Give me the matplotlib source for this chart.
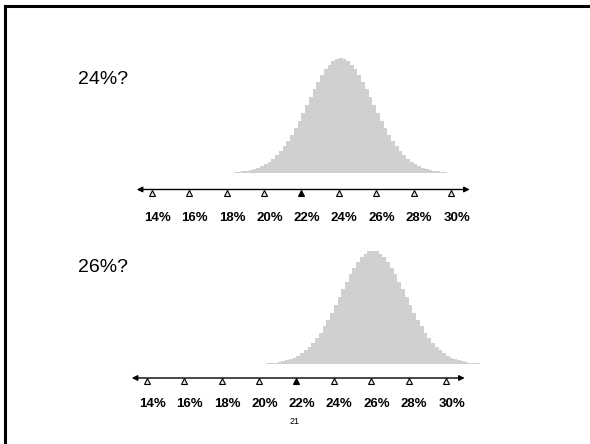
import matplotlib
matplotlib.use("Agg")
import matplotlib.pyplot as plt
import numpy as np

plt.rcParams['font.family'] = ['Liberation Sans', 'DejaVu Sans']

# tick values on the number line (percent)
ticks = [14, 16, 18, 20, 22, 24, 26, 28, 30]
tick_labels = ["14%", "16%", "18%", "20%", "22%", "24%", "26%", "28%", "30%"]
marked_tick = 22

# histogram bar heights (peak = 100), bins 0.2% wide
bin_width = 0.2
heights = [0.6, 0.9, 1.2, 1.7, 2.3, 3.2, 4.2, 5.6, 7.3,
           9.5, 12.1, 15.2, 18.8, 23.0, 27.8, 33.2, 39.1, 45.4, 52.1,
           58.9, 65.8, 72.6, 79.1, 84.9, 90.1, 94.3, 97.4, 99.4, 100.0,
           99.4, 97.4, 94.3, 90.1, 84.9, 79.1, 72.6, 65.8, 58.9, 52.1,
           45.4, 39.1, 33.2, 27.8, 23.0, 18.8, 15.2, 12.1, 9.5, 7.3,
           5.6, 4.2, 3.2, 2.3, 1.7, 1.2, 0.9, 0.6]

# the two guesses shown on the slide
guesses = ["24%?", "26%?"]
centers = [24, 26]

W, H = 590, 444
fig = plt.figure(figsize=(W / 100, H / 100), dpi=100)

# slide border (top and left edges only visible)
fig.add_artist(plt.Line2D([5 / W, 1], [1 - 6 / H, 1 - 6 / H], color="black", lw=2.2))
fig.add_artist(plt.Line2D([5 / W, 5 / W], [0, 1 - 6 / H], color="black", lw=2.2))


def px_axes(x0, x1, y0, y1):
    # axes placed by pixel box (y measured from top)
    return fig.add_axes([x0 / W, 1 - y1 / H, (x1 - x0) / W, (y1 - y0) / H])


panels = [
    dict(x12=114.3, x32=488.4, top=40, bot=235, base=172.7, scale=1.147,
         line=189.5, tri=193.0, lab=218, gy=79),
    dict(x12=109.3, x32=483.4, top=225, bot=420, base=364, scale=1.133,
         line=378, tri=381.0, lab=404, gy=267),
]

for p, guess, c in zip(panels, guesses, centers):
    ax = px_axes(p["x12"], p["x32"], p["top"], p["bot"])
    ax.set_xlim(12, 32)
    ax.set_ylim((p["base"] - p["bot"]) / p["scale"], (p["base"] - p["top"]) / p["scale"])
    ax.axis("off")

    n = len(heights)
    lefts = c + 0.1 - (n / 2) * bin_width + np.arange(n) * bin_width
    ax.bar(lefts, heights, width=bin_width, align="edge", color="#d0d0d0",
           edgecolor="none", linewidth=0)

    def uy(px):
        return (p["base"] - px) / p["scale"]

    ax.annotate("", xy=(31.0, uy(p["line"])), xytext=(13.2, uy(p["line"])),
                arrowprops=dict(arrowstyle="<|-|>", color="black", lw=1.0,
                                mutation_scale=8, shrinkA=0, shrinkB=0))
    for t, lab in zip(ticks, tick_labels):
        fc = "black" if t == marked_tick else "#e6e6e6"
        ax.plot([t], [uy(p["tri"])], marker="^", ms=4, mfc=fc, mec="black",
                mew=0.8, ls="none", clip_on=False)
        ax.text(t + 0.3, uy(p["lab"]), lab, ha="center", va="center",
                fontsize=9.5, fontweight="bold")

    fig.text(78 / W, 1 - p["gy"] / H, guess, ha="left", va="center", fontsize=14)

fig.text(295 / W, 1 - 421.5 / H, "21", ha="center", va="center", fontsize=6.5)

fig.savefig("out.png", dpi=100)
